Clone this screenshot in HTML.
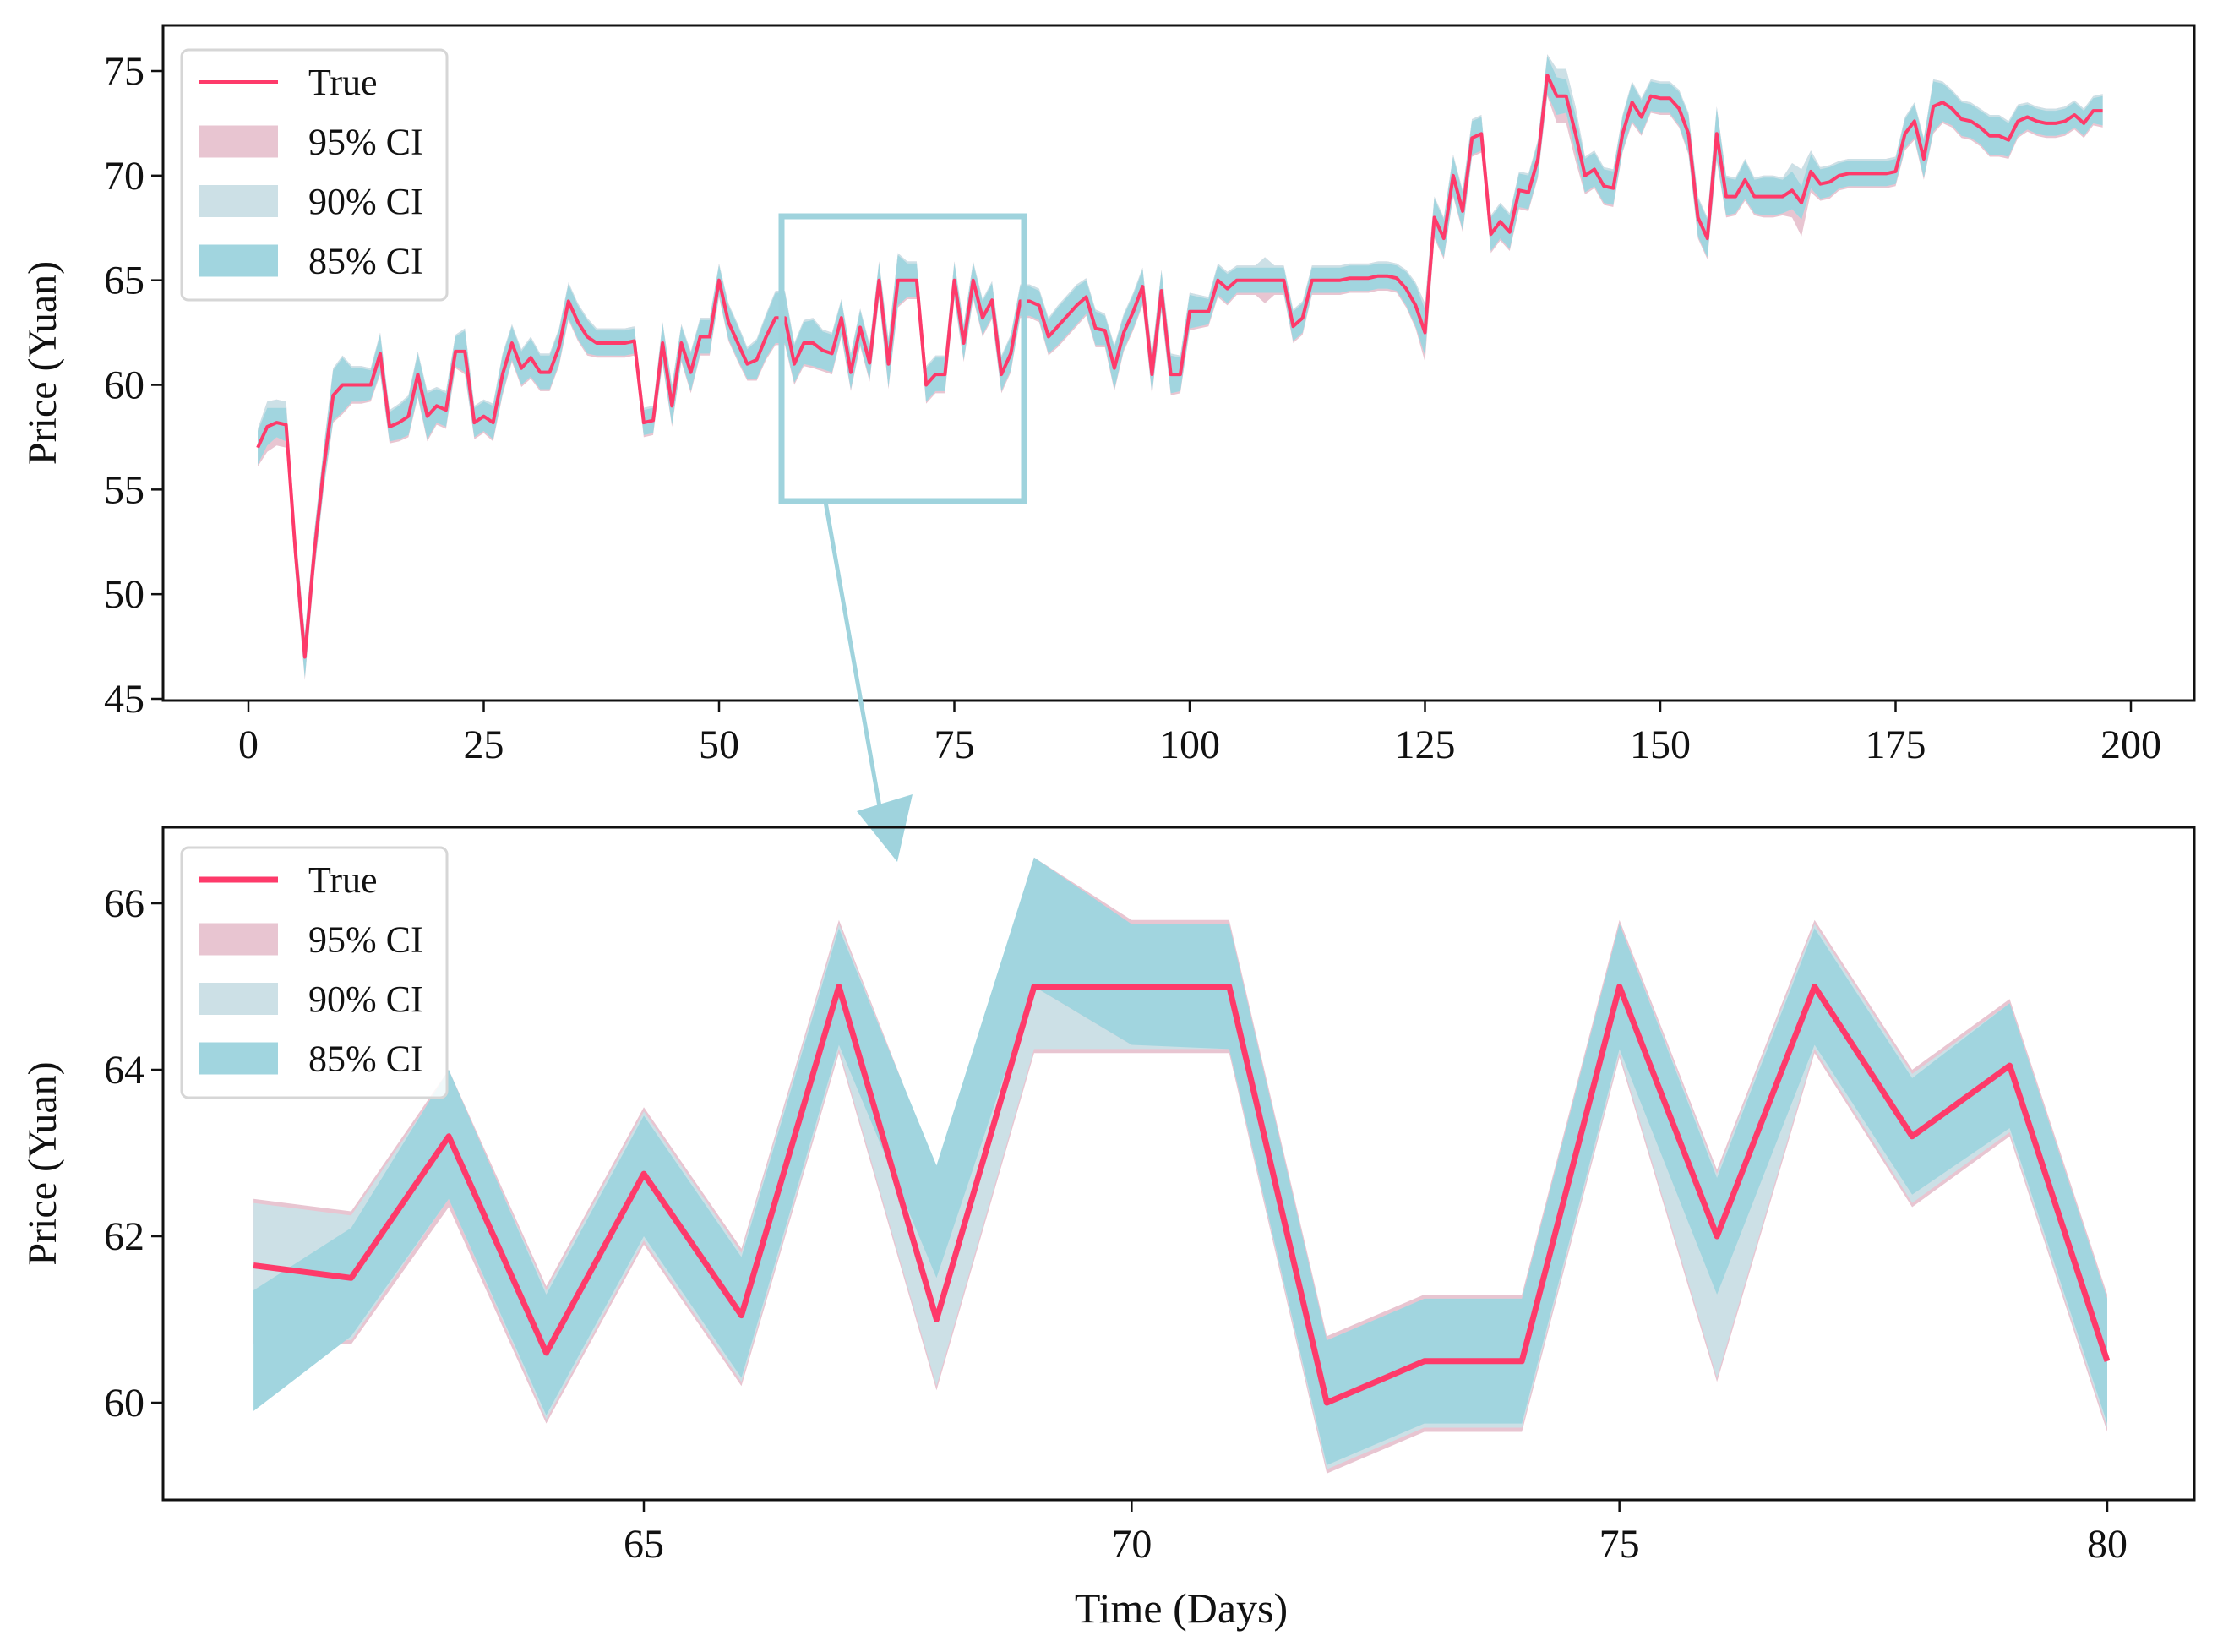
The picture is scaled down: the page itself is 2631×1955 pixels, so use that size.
<!DOCTYPE html>
<html><head><meta charset="utf-8">
<style>
html,body{margin:0;padding:0;background:#fff;}
svg{display:block;font-family:"Liberation Serif","DejaVu Serif",serif;}
</style></head>
<body>
<svg id="chart" width="2631" height="1955" viewBox="0 0 2631 1955" xmlns="http://www.w3.org/2000/svg">
  <rect x="0" y="0" width="2631" height="1955" fill="#fff"/>
  <g id="top-plot"></g>
  <g id="bottom-plot"></g>
</svg>
<script>
// ---------- DATA ----------
const topDays = [];
for (let d = 1; d <= 197; d++) topDays.push(d);
const topTrue = [57,58,58.2,58.1,52,47,52,56,59.5,60,60,60,60,61.5,58,58.2,58.5,60.5,58.5,59,
58.8,61.6,61.6,58.2,58.5,58.2,60.5,62,60.8,61.3,60.6,60.6,61.8,64,63,62.3,62,62,62,62,
62.1,58.2,58.3,62,59,62,60.6,62.3,62.3,65,63,62,61,61.2,62.3,63.2,63.2,61,62,62,
61.65,61.5,63.2,60.6,62.75,61.05,65,61,65,65,65,60,60.5,60.5,65,62,65,63.2,64.05,60.5,
61.5,64,64,63.8,62.3,62.8,63.3,63.8,64.2,62.7,62.6,60.8,62.5,63.5,64.7,60.5,64.5,60.5,60.5,63.5,
63.5,63.5,65,64.6,65,65,65,65,65,65,62.8,63.2,65,65,65,65,65.1,65.1,65.1,65.2,
65.2,65.1,64.6,63.8,62.5,68,67,70,68.3,71.8,72,67.2,67.8,67.3,69.3,69.2,70.8,74.8,73.8,73.8,
72,70,70.3,69.5,69.4,72,73.5,72.8,73.8,73.7,73.7,73.2,72,68,67,72,69,69,69.8,69,
69,69,69,69.3,68.7,70.2,69.6,69.7,70,70.1,70.1,70.1,70.1,70.1,70.2,72,72.6,70.8,73.3,73.5,
73.2,72.7,72.6,72.3,71.9,71.9,71.7,72.6,72.8,72.6,72.5,72.5,72.6,72.9,72.5,73.1,73.1];
const topWidth85 = [0.8,0.9,0.7,0.8,0.9,1.0,0.9,0.9,1.2,1.3,0.8,0.8,0.7,0.9,0.7,0.8,0.9,1.0,1.1,0.8,
0.8,0.7,1.0,0.7,0.7,0.8,0.9,0.8,0.8,0.9,0.8,0.8,0.8,0.8,0.8,0.8,0.6,0.6,0.6,0.6,
0.6,0.6,0.6,0.9,0.9,0.8,0.9,0.8,0.8,0.7,0.8,0.8,0.7,0.9,1.0,1.2,1.2,0.9,1.0,1.1,
0.9,0.9,0.8,0.8,0.8,0.8,0.8,1.1,1.2,0.8,0.8,0.8,0.8,0.8,0.8,0.8,0.8,0.8,0.8,0.8,
0.8,0.7,0.7,0.7,0.8,0.9,0.9,0.9,0.8,0.8,0.7,1.0,0.8,0.8,0.8,0.9,0.9,0.9,0.8,0.8,
0.7,0.6,0.7,0.7,0.6,0.6,0.6,0.6,0.6,0.6,0.7,0.7,0.6,0.6,0.6,0.6,0.6,0.6,0.6,0.6,
0.6,0.6,0.8,1.0,1.1,0.9,0.9,0.9,0.9,0.8,0.8,0.8,0.8,0.8,0.8,0.8,0.8,0.9,0.9,0.8,
0.9,0.8,0.8,0.8,0.8,0.8,0.9,0.8,0.7,0.7,0.7,0.8,0.9,0.9,0.9,1.2,0.9,0.8,0.9,0.8,
0.9,0.9,0.8,0.9,0.8,0.8,0.7,0.7,0.6,0.6,0.6,0.6,0.6,0.6,0.6,0.7,0.8,0.9,1.2,0.9,
0.8,0.8,0.8,0.8,0.9,0.9,0.8,0.7,0.6,0.6,0.6,0.6,0.6,0.6,0.6,0.6,0.7];
const topWidthExtra = [0.1,0.3,0.4,0.3,0.1,0.1,0.1,0.1,0.1,0.1,0.1,0.1,0.1,0.1,0.1,0.1,0.1,0.1,0.1,0.1,
0.1,0.1,0.1,0.1,0.1,0.1,0.1,0.1,0.1,0.1,0.1,0.1,0.1,0.1,0.1,0.1,0.1,0.1,0.1,0.1,
0.1,0.1,0.1,0.1,0.1,0.1,0.1,0.1,0.1,0.1,0.1,0.1,0.1,0.1,0.1,0.1,0.1,0.1,0.1,0.1,
0.1,0.1,0.1,0.1,0.1,0.1,0.1,0.1,0.1,0.1,0.1,0.1,0.1,0.1,0.1,0.1,0.1,0.1,0.1,0.1,
0.1,0.1,0.1,0.1,0.1,0.1,0.1,0.1,0.1,0.1,0.1,0.1,0.1,0.1,0.1,0.1,0.1,0.1,0.1,0.1,
0.1,0.1,0.1,0.1,0.1,0.1,0.1,0.5,0.1,0.1,0.1,0.1,0.1,0.1,0.1,0.1,0.1,0.1,0.1,0.1,
0.1,0.1,0.1,0.1,0.3,0.1,0.1,0.1,0.1,0.1,0.1,0.1,0.1,0.1,0.1,0.1,0.1,0.1,0.4,0.5,
0.4,0.1,0.1,0.1,0.1,0.1,0.1,0.1,0.1,0.1,0.1,0.1,0.1,0.1,0.1,0.1,0.1,0.1,0.1,0.1,
0.1,0.1,0.1,0.4,0.8,0.2,0.1,0.1,0.1,0.1,0.1,0.1,0.1,0.1,0.1,0.1,0.1,0.1,0.1,0.1,
0.1,0.1,0.1,0.1,0.1,0.1,0.1,0.1,0.1,0.1,0.1,0.1,0.1,0.1,0.1,0.1,0.1];

const zoomDays = [61,62,63,64,65,66,67,68,69,70,71,72,73,74,75,76,77,78,79,80];
const zoomTrue = [61.65,61.5,63.2,60.6,62.75,61.05,65,61,65,65,65,60,60.5,60.5,65,62,65,63.2,64.05,60.5];
const zoom95Hi = [62.45,62.3,64.0,61.4,63.55,61.85,65.8,62.8,66.55,65.8,65.8,60.8,61.3,61.3,65.8,62.8,65.8,64.0,64.85,61.3];
const zoom95Lo = [60.7,60.7,62.35,59.75,61.9,60.2,64.2,60.15,64.2,64.2,64.2,59.15,59.65,59.65,64.15,60.25,64.2,62.35,63.2,59.65];
const zoom90Hi = [62.4,62.25,63.95,61.35,63.5,61.8,65.75,62.8,65.0,64.3,64.3,60.75,61.25,61.25,65.75,62.75,65.75,63.95,64.8,61.25];
const zoom90Lo = [60.8,60.75,62.45,59.8,61.95,60.25,64.25,60.2,64.25,64.25,64.25,59.2,59.7,59.7,64.2,60.3,64.25,62.4,63.25,59.7];
const zoom85Hi = [61.35,62.1,64.0,61.3,63.45,61.75,65.7,62.85,66.55,65.75,65.75,60.75,61.25,61.25,65.75,62.7,65.7,63.9,64.8,61.25];
const zoom85Lo = [59.9,60.8,62.45,59.85,62.0,60.3,64.3,61.5,65.0,64.3,64.25,59.25,59.75,59.75,64.25,61.3,64.3,62.5,63.3,59.75];

const topXTicks = [0,25,50,75,100,125,150,175,200];
const topYTicks = [45,50,55,60,65,70,75];
const botXTicks = [65,70,75,80];
const botYTicks = [60,62,64,66];
const legendLabels = ["True","95% CI","90% CI","85% CI"];

// ---------- HELPERS ----------
const NS = "http://www.w3.org/2000/svg";
const C_RED = "#fe3a6a", C95 = "#e8c5d1", C90 = "#cce0e6", C85 = "#a1d5df";
function mk(tag, attrs, parent) {
  const e = document.createElementNS(NS, tag);
  for (const k in attrs) e.setAttribute(k, attrs[k]);
  parent.appendChild(e);
  return e;
}
function linScale(d0, d1, r0, r1) { return v => r0 + (v - d0) * (r1 - r0) / (d1 - d0); }
function bandPath(xs, hi, lo, sx, sy) {
  let p = "";
  for (let i = 0; i < xs.length; i++) p += (i ? "L" : "M") + sx(xs[i]).toFixed(1) + "," + sy(hi[i]).toFixed(1);
  for (let i = xs.length - 1; i >= 0; i--) p += "L" + sx(xs[i]).toFixed(1) + "," + sy(lo[i]).toFixed(1);
  return p + "Z";
}
function linePath(xs, ys, sx, sy) {
  let p = "";
  for (let i = 0; i < xs.length; i++) p += (i ? "L" : "M") + sx(xs[i]).toFixed(1) + "," + sy(ys[i]).toFixed(1);
  return p;
}
function drawAxes(g, box, sx, sy, xt, yt, yTitle) {
  const fr = mk("rect", {x: box.x0, y: box.y0, width: box.x1 - box.x0, height: box.y1 - box.y0, fill: "none", stroke: "#111", "stroke-width": 3}, g);
  
  
  xt.forEach(v => {
    const x = sx(v);
    const t = mk("line", {x1: x, y1: box.y1, x2: x, y2: box.y1 + 14, stroke: "#111", "stroke-width": 2.5}, g);
    
    
    const l = mk("text", {x: x, y: box.y1 + 68, "font-size": 48, "text-anchor": "middle", fill: "#111"}, g);
    l.textContent = v;
    
    
  });
  yt.forEach(v => {
    const y = sy(v);
    const t = mk("line", {x1: box.x0 - 14, y1: y, x2: box.x0, y2: y, stroke: "#111", "stroke-width": 2.5}, g);
    
    
    const l = mk("text", {x: box.x0 - 22, y: y + 16, "font-size": 48, "text-anchor": "end", fill: "#111"}, g);
    l.textContent = v;
    
    
  });
  const cy = (box.y0 + box.y1) / 2;
  const yl = mk("text", {x: 0, y: 0, "font-size": 48, "text-anchor": "middle", fill: "#111", transform: "translate(66," + cy + ") rotate(-90)"}, g);
  yl.textContent = yTitle;
  
  
}
function drawLegend(g, x, y, lw) {
  const box = mk("rect", {x: x, y: y, width: 314, height: 296, rx: 8, fill: "#fff", "fill-opacity": 0.85, stroke: "#d6d6d6", "stroke-width": 3}, g);
  
  
  const cols = [null, C95, C90, C85];
  legendLabels.forEach((lab, i) => {
    const cy = y + 38 + i * 70.5;
    let sw;
    if (i === 0) sw = mk("line", {x1: x + 20, y1: cy, x2: x + 114, y2: cy, stroke: C_RED, "stroke-width": lw}, g);
    else sw = mk("rect", {x: x + 20, y: cy - 19, width: 94, height: 38, fill: cols[i]}, g);
    
    
    const t = mk("text", {x: x + 150, y: cy + 15, "font-size": 44, fill: "#111"}, g);
    t.textContent = lab;
    
    
  });
}

// ---------- TOP PLOT ----------
const gT = document.getElementById("top-plot");
const boxT = {x0: 193, y0: 30, x1: 2597, y1: 829};
const sxT = linScale(0, 200, 294, 2522);
const syT = linScale(45, 75, 827, 84);
const t85hi = topTrue.map((v, i) => v + topWidth85[i]);
const t85lo = topTrue.map((v, i) => v - topWidth85[i]);
const t95hi = topTrue.map((v, i) => v + topWidth85[i] + topWidthExtra[i]);
const t95lo = topTrue.map((v, i) => v - topWidth85[i] - topWidthExtra[i]);
const p95 = mk("path", {d: bandPath(topDays, t95hi, t95lo, sxT, syT), fill: C95}, gT);


const p90 = mk("path", {d: bandPath(topDays, t95hi, t85lo, sxT, syT), fill: C90}, gT);


const p85 = mk("path", {d: bandPath(topDays, t85hi, t85lo, sxT, syT), fill: C85}, gT);


const lT = mk("path", {d: linePath(topDays, topTrue, sxT, syT), fill: "none", stroke: C_RED, "stroke-width": 4, "stroke-linejoin": "round"}, gT);


drawAxes(gT, boxT, sxT, syT, topXTicks, topYTicks, "Price (Yuan)");
drawLegend(gT, 215, 59, 4);

// zoom indicator box + arrow
const zr = mk("rect", {x: 925, y: 256, width: 287, height: 337, fill: "none", stroke: "#9fd3dd", "stroke-width": 7}, gT);


const ar = mk("line", {x1: 977, y1: 594, x2: 1042, y2: 960, stroke: "#9fd3dd", "stroke-width": 5}, gT);


const ah = mk("polygon", {points: "1014,960 1080,940 1062,1020", fill: "#9fd3dd"}, gT);



// ---------- BOTTOM PLOT ----------
const gB = document.getElementById("bottom-plot");
const boxB = {x0: 193, y0: 979, x1: 2597, y1: 1775};
const sxB = linScale(65, 80, 762, 2494);
const syB = linScale(60, 66, 1660, 1069);
const b95 = mk("path", {d: bandPath(zoomDays, zoom95Hi, zoom95Lo, sxB, syB), fill: C95}, gB);


const b90 = mk("path", {d: bandPath(zoomDays, zoom90Hi, zoom90Lo, sxB, syB), fill: C90}, gB);


const b85 = mk("path", {d: bandPath(zoomDays, zoom85Hi, zoom85Lo, sxB, syB), fill: C85}, gB);


const lB = mk("path", {d: linePath(zoomDays, zoomTrue, sxB, syB), fill: "none", stroke: C_RED, "stroke-width": 7, "stroke-linejoin": "round"}, gB);


drawAxes(gB, boxB, sxB, syB, botXTicks, botYTicks, "Price (Yuan)");
drawLegend(gB, 215, 1003, 7);
const xt = mk("text", {x: 1398, y: 1920, "font-size": 50, "text-anchor": "middle", fill: "#111"}, gB);
xt.textContent = "Time (Days)";


</script>
</body></html>
